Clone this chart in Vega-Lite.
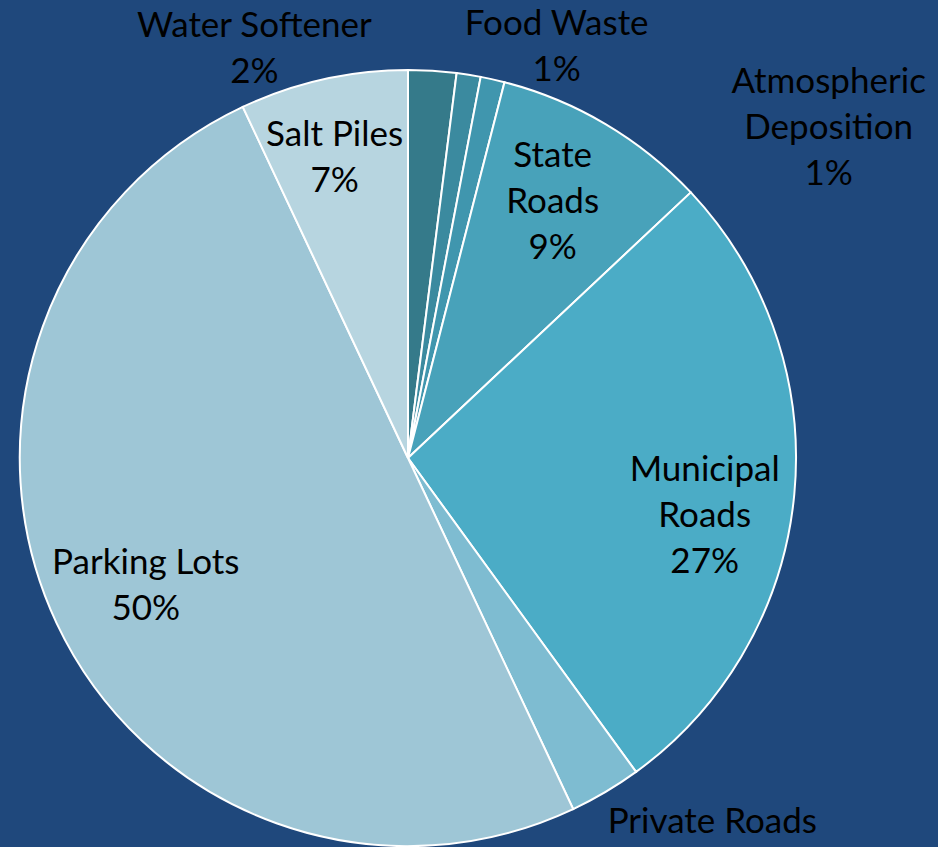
{
  "$schema": "https://vega.github.io/schema/vega-lite/v6.json",
  "width": 776,
  "height": 776,
  "autosize": {"type": "none"},
  "padding": {"left": 20, "top": 70, "right": 142, "bottom": 1},
  "background": "#1F487C",
  "view": {"stroke": null},
  "config": {"text": {"font": "Lato", "fontSize": 35, "lineHeight": 46, "lineBreak": "\n", "fill": "#000000", "baseline": "middle", "align": "center"}},
  "data": {"values": [
    {"category": "Water Softener", "value": 2, "rank": 1, "label": "Water Softener\n2%"},
    {"category": "Food Waste", "value": 1, "rank": 2, "label": "Food Waste\n1%"},
    {"category": "Atmospheric Deposition", "value": 1, "rank": 3, "label": "Atmospheric\nDeposition\n1%"},
    {"category": "State Roads", "value": 9, "rank": 4, "label": "State\nRoads\n9%"},
    {"category": "Municipal Roads", "value": 27, "rank": 5, "label": "Municipal\nRoads\n27%"},
    {"category": "Private Roads", "value": 3, "rank": 6, "label": "Private Roads"},
    {"category": "Parking Lots", "value": 50, "rank": 7, "label": "Parking Lots\n50%"},
    {"category": "Salt Piles", "value": 7, "rank": 8, "label": "Salt Piles\n7%"}
  ]},
  "encoding": {
    "theta": {"field": "value", "type": "quantitative", "stack": true},
    "order": {"field": "rank", "type": "quantitative"},
    "detail": {"field": "category", "type": "nominal"}
  },
  "layer": [
    {
      "mark": {"type": "arc", "stroke": "#FFFFFF", "strokeWidth": 2},
      "encoding": {
        "color": {"field": "category", "type": "nominal", "legend": null,
          "scale": {"domain": ["Water Softener", "Food Waste", "Atmospheric Deposition", "State Roads", "Municipal Roads", "Private Roads", "Parking Lots", "Salt Piles"],
                    "range": ["#357A8A", "#3B8A9F", "#4096AE", "#48A2BA", "#4BACC6", "#7EBCD1", "#9EC6D6", "#B7D5E0"]}}
      }
    },
    {"mark": {"type": "text", "radius": 294, "dx": -5, "dy": -49},
     "encoding": {"text": {"condition": {"test": "datum.category === 'State Roads'", "field": "label"}, "value": ""}}},
    {"mark": {"type": "text", "radius": 309, "dx": -6, "dy": -21},
     "encoding": {"text": {"condition": {"test": "datum.category === 'Salt Piles'", "field": "label"}, "value": ""}}},
    {"mark": {"type": "text", "radius": 292, "dx": 2, "dy": -19},
     "encoding": {"text": {"condition": {"test": "datum.category === 'Parking Lots'", "field": "label"}, "value": ""}}},
    {"mark": {"type": "text", "radius": 300, "dx": -2, "dy": -16},
     "encoding": {"text": {"condition": {"test": "datum.category === 'Municipal Roads'", "field": "label"}, "value": ""}}},
    {"mark": {"type": "text", "radius": 480, "dx": 60, "dy": -49},
     "encoding": {"text": {"condition": {"test": "datum.category === 'Private Roads'", "field": "label"}, "value": ""}}},
    {"mark": {"type": "text", "radius": 420, "dx": -180, "dy": -13},
     "encoding": {"text": {"condition": {"test": "datum.category === 'Water Softener'", "field": "label"}, "value": ""}}},
    {"mark": {"type": "text", "radius": 420, "dx": 83, "dy": -19},
     "encoding": {"text": {"condition": {"test": "datum.category === 'Food Waste'", "field": "label"}, "value": ""}}},
    {"mark": {"type": "text", "radius": 420, "dx": 329, "dy": 34},
     "encoding": {"text": {"condition": {"test": "datum.category === 'Atmospheric Deposition'", "field": "label"}, "value": ""}}}
  ]
}
